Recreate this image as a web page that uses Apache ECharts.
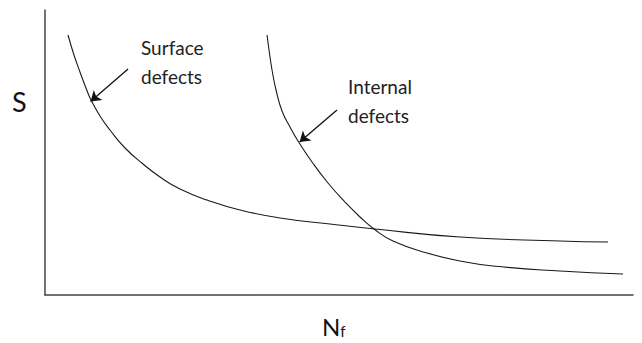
<!DOCTYPE html>
<html>
<head>
<meta charset="utf-8">
<script src="https://cdn.jsdelivr.net/npm/echarts@6/dist/echarts.min.js"></script>
<style>
html,body{margin:0;padding:0;background:#fff;}
#c{width:642px;height:343px;}
</style>
</head>
<body>
<div id="c"></div>
<script>
// Surface defects S-N curve (x = N_f, y = S), arbitrary units
const surfaceX = [3.91, 4.93, 5.95, 6.97, 7.82, 9.35, 11.05, 13.61, 16.67, 19.56, 22.96, 27.55, 33.16, 39.97, 48.47, 56.12, 70.58, 87.59, 95.75];
const surfaceY = [91.23, 84.21, 78.25, 72.63, 68.42, 62.81, 57.89, 51.58, 45.96, 41.40, 37.19, 33.33, 29.82, 27.02, 24.91, 23.16, 20.35, 18.95, 18.60];
// Internal defects S-N curve
const internalX = [37.76, 38.10, 38.61, 39.29, 40.31, 41.67, 43.03, 45.41, 48.13, 51.02, 53.57, 55.95, 59.18, 64.97, 70.58, 76.19, 87.59, 98.30];
const internalY = [91.23, 85.96, 78.95, 71.93, 64.56, 58.95, 54.04, 46.67, 39.30, 32.63, 27.37, 23.16, 18.95, 14.74, 11.93, 10.18, 8.42, 7.37];
// Annotation arrows: [fromX, fromY, toX, toY]
const surfaceArrow = [14.12, 79.3, 7.75, 67.9];
const internalArrow = [49.66, 64.9, 43.3, 53.7];
const surfaceLabel = ['Surface', 'defects'];
const internalLabel = ['Internal', 'defects'];
const yName = 'S';
const xName = 'N';
const xSub = 'f';

const pair = (xs, ys) => xs.map((x, i) => [x, ys[i]]);
const arrowLine = a => ({
  silent: true,
  animation: false,
  symbol: ['none', 'arrow'],
  symbolSize: 10,
  lineStyle: { color: '#111', width: 1.3, type: 'solid' },
  itemStyle: { color: '#111' },
  label: { show: false },
  emphasis: { disabled: true },
  data: [[{ coord: [a[0], a[1]] }, { coord: [a[2], a[3]] }]]
});

const font = 'Lato, "Liberation Sans", sans-serif';
const chart = echarts.init(document.getElementById('c'), null, { renderer: 'svg' });
chart.setOption({
  animation: false,
  backgroundColor: '#fff',
  grid: { left: 45, right: 9, top: 10, bottom: 48 },
  xAxis: {
    type: 'value', min: 0, max: 100,
    axisLine: { show: true, lineStyle: { color: '#444', width: 1.5 } },
    axisTick: { show: false }, axisLabel: { show: false }, splitLine: { show: false }
  },
  yAxis: {
    type: 'value', min: 0, max: 100,
    axisLine: { show: true, lineStyle: { color: '#444', width: 1.5 } },
    axisTick: { show: false }, axisLabel: { show: false }, splitLine: { show: false }
  },
  series: [
    {
      type: 'line', smooth: 0.5, showSymbol: false, data: pair(surfaceX, surfaceY),
      lineStyle: { color: '#1a1a1a', width: 1.1 }, markLine: arrowLine(surfaceArrow)
    },
    {
      type: 'line', smooth: 0.5, showSymbol: false, data: pair(internalX, internalY),
      lineStyle: { color: '#1a1a1a', width: 1.1 }, markLine: arrowLine(internalArrow)
    }
  ],
  graphic: [
    { type: 'text', left: 141, top: 33, style: { text: surfaceLabel.join('\n'), font: '19px ' + font, lineHeight: 29, fill: '#222' } },
    { type: 'text', left: 348, top: 72, style: { text: internalLabel.join('\n'), font: '19px ' + font, lineHeight: 29, fill: '#222' } },
    { type: 'text', left: 12, top: 88, style: { text: yName, font: '27px ' + font, fill: '#111' } },
    { type: 'text', left: 322, top: 314, style: { text: '{n|' + xName + '}{f|' + xSub + '}', rich: { n: { font: '24px ' + font, fill: '#111', verticalAlign: 'bottom' }, f: { font: '15px ' + font, fill: '#111', padding: [10, 0, 0, 0], verticalAlign: 'bottom' } } } }
  ]
});
</script>
</body>
</html>
